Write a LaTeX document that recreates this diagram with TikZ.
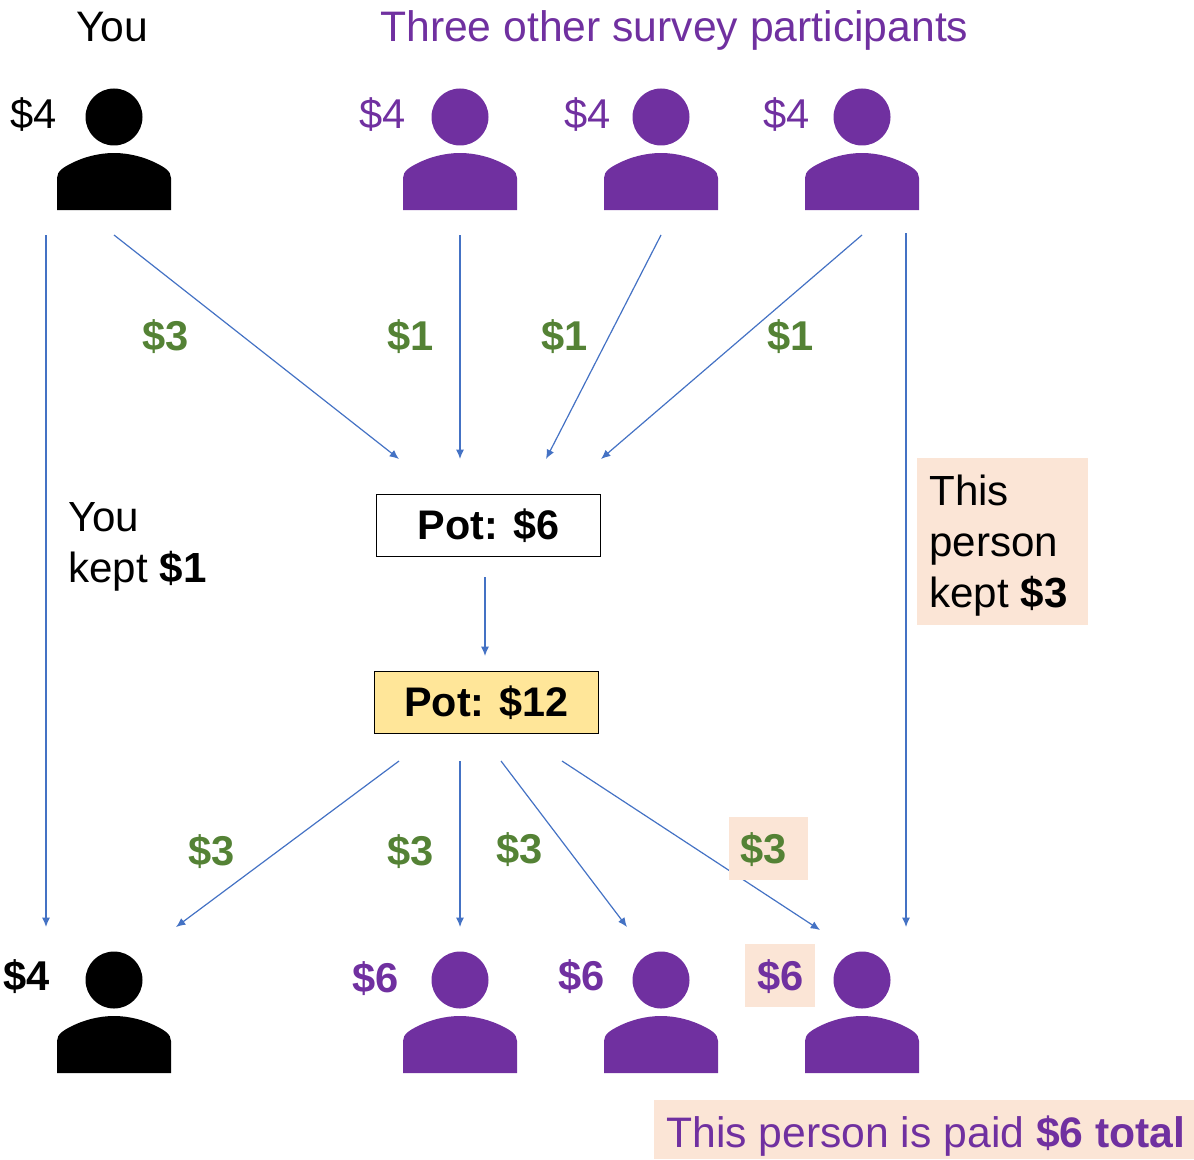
\documentclass[tikz,border=0pt]{standalone}
\usepackage{fontspec}
\setmainfont{Liberation Sans}
\usetikzlibrary{arrows.meta}
\definecolor{purp}{HTML}{7030A0}
\definecolor{grn}{HTML}{548235}
\definecolor{peach}{HTML}{FBE5D6}
\definecolor{arrowblue}{HTML}{4472C4}
\definecolor{potyellow}{HTML}{FFE699}
\tikzset{
  txt/.style={inner sep=0pt,anchor=base west,font=\fontsize{31.25}{38}\selectfont},
  wordtxt/.style={inner sep=0pt,anchor=base west,font=\fontsize{32}{38}\selectfont},
  boldtxt/.style={txt,font=\fontsize{31.25}{38}\selectfont\bfseries},
  notetxt/.style={inner sep=0pt,anchor=north west,align=left,font=\fontsize{31.6}{38.25}\selectfont},
  potbox/.style={draw=black,line width=0.9pt,minimum width=167.5pt,minimum height=46.5pt,inner sep=0pt,font=\fontsize{31}{38}\selectfont\bfseries},
  peachbox/.style={fill=peach,inner sep=0pt},
  link/.style={draw=arrowblue,line width=0.9pt,-{Latex[length=7pt,width=6pt]},shorten >=0pt},
  person/.pic={
    \path[pic actions] (0,0) circle[radius=28.5];
    \path[pic actions] (-57,93) -- (-57,61) .. controls (-57,54) and (-50,50) .. (-42,46)
      .. controls (-30,40) and (-15,36) .. (0,36)
      .. controls (15,36) and (30,40) .. (42,46)
      .. controls (50,50) and (57,54) .. (57,61) -- (57,93) -- cycle;
  }
}
\begin{document}
\begin{tikzpicture}[x=0.75pt,y=-0.75pt]
\useasboundingbox (0,0) rectangle (1194,1159);
% headers
\node[wordtxt] (you) at (76,42) {You};
\node[wordtxt,text=purp] (three) at (380,42) {Three other survey participants};
% top people
\pic[fill=black] at (114,117) {person};
\pic[fill=purp] at (460,117) {person};
\pic[fill=purp] at (661,117) {person};
\pic[fill=purp] at (862,117) {person};
\node[txt] (t1) at (10,128) {\$4};
\node[txt,text=purp] (t2) at (359,128) {\$4};
\node[txt,text=purp] (t3) at (564,128) {\$4};
\node[txt,text=purp] (t4) at (763,128) {\$4};
% bottom people
\pic[fill=black] at (114,980) {person};
\pic[fill=purp] at (460,980) {person};
\pic[fill=purp] at (661,980) {person};
\pic[fill=purp] at (862,980) {person};
% coordinates
\coordinate (a1s) at (46,235);   \coordinate (a1e) at (46,927);
\coordinate (a2s) at (114,235);  \coordinate (a2e) at (399,459);
\coordinate (a3s) at (460,235);  \coordinate (a3e) at (460,459);
\coordinate (a4s) at (661,235);  \coordinate (a4e) at (546,459);
\coordinate (a5s) at (862,235);  \coordinate (a5e) at (601,459);
\coordinate (a6s) at (906,233);  \coordinate (a6e) at (906,927);
\coordinate (a7s) at (485,577);  \coordinate (a7e) at (485,656);
\coordinate (b1s) at (399,761);  \coordinate (b1e) at (176,927);
\coordinate (b2s) at (460,761);  \coordinate (b2e) at (460,927);
\coordinate (b3s) at (501,761);  \coordinate (b3e) at (627,927);
\coordinate (b4s) at (562,761);  \coordinate (b4e) at (820,930);
\foreach \p in {a1,a2,a3,a4,a5,a6,a7,b1,b2,b3,b4}{
  \draw[link] (\p s) -- (\p e);
}
% pots
\node[potbox] (pot1) at (488.5,525.5) {Pot: \$6};
\node[potbox,fill=potyellow] (pot2) at (486.5,702.5) {Pot: \$12};
% green amounts
\node[boldtxt,text=grn] (g1) at (142,350) {\$3};
\node[boldtxt,text=grn] (g2) at (387,350) {\$1};
\node[boldtxt,text=grn] (g3) at (541,350) {\$1};
\node[boldtxt,text=grn] (g4) at (767,350) {\$1};
\node[boldtxt,text=grn] (g5) at (188,865) {\$3};
\node[boldtxt,text=grn] (g6) at (387,865) {\$3};
\node[boldtxt,text=grn] (g7) at (496,863) {\$3};
\node[peachbox,minimum width=59.25pt,minimum height=47.25pt] (g8box) at (768.5,848.5) {};
\node[boldtxt,text=grn] (g8) at (740,863.5) {\$3};
% bottom amounts
\node[boldtxt] (m1) at (3,990) {\$4};
\node[boldtxt,text=purp] (m2) at (352,992) {\$6};
\node[boldtxt,text=purp] (m3) at (558,990) {\$6};
\node[peachbox,minimum width=52.5pt,minimum height=47.25pt] (m4box) at (780,975.5) {};
\node[boldtxt,text=purp] (m4) at (757,990) {\$6};
% notes
\node[notetxt] (kept) at (68,502) {You\\kept \textbf{\$1}};
\node[peachbox,minimum width=128.25pt,minimum height=125.25pt] (kept3box) at (1002.5,541.5) {};
\node[notetxt] (kept3) at (929,475) {This\\person\\kept \textbf{\$3}};
\node[peachbox,minimum width=405pt,minimum height=44.25pt] (paidbox) at (924,1129.5) {};
\node[wordtxt,text=purp] (paid) at (666,1147) {This person is paid \textbf{\$6 total}};
\end{tikzpicture}
\end{document}
